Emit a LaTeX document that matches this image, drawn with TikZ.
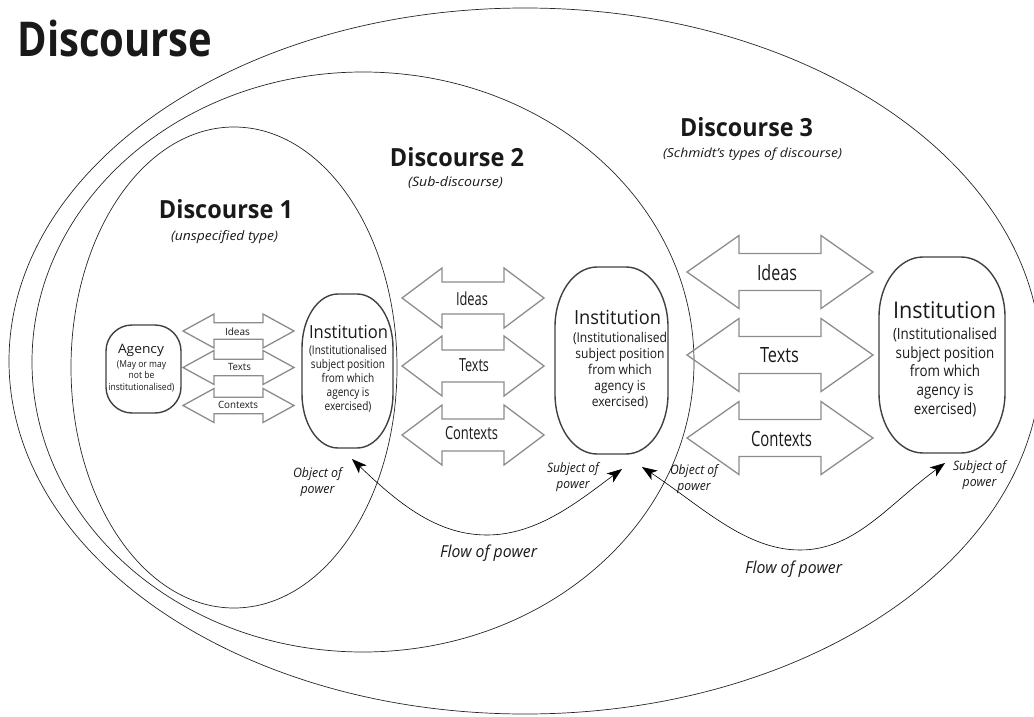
\documentclass[tikz,border=0pt]{standalone}
\usepackage{fontspec}
\setmainfont{Open Sans}
\usepackage{graphicx}
\usetikzlibrary{arrows.meta}

% set text to a given width, keeping its natural height
\newcommand{\fitw}[2]{\resizebox{#1}{\height}{#2}}
\newcommand{\setfs}[1]{\fontsize{#1}{#1}\selectfont}
\newcommand{\linesof}[1]{\begin{tabular}{@{}c@{}}#1\end{tabular}}

% two-headed block arrow: cx, cy, half length, head length, head half-height, shaft half-height
\newcommand{\twoway}[6]{%
  \draw[twoarrow] (#1-#3,#2) -- ++(#4,-#5) -- ++(0,#5-#6) -- (#1+#3-#4,#2-#6)
    -- ++(0,#6-#5) -- (#1+#3,#2) -- ++(-#4,#5) -- ++(0,#6-#5)
    -- (#1-#3+#4,#2+#6) -- ++(0,#5-#6) -- cycle;
}

% box with elliptical corners: name, cx, cy, half width, half height, corner rx, corner ry
\newcommand{\instbox}[7]{%
  \node[inner sep=0pt, minimum width={2*#4pt}, minimum height={2*#5pt}] (#1) at (#2,#3) {};
  \pgfmathsetmacro\bxl{#2-#4}\pgfmathsetmacro\bxr{#2+#4}%
  \pgfmathsetmacro\byt{#3-#5}\pgfmathsetmacro\byb{#3+#5}%
  \pgfmathsetmacro\bkx{0.5523*#6}\pgfmathsetmacro\bky{0.5523*#7}%
  \draw[box] (\bxl+#6,\byt) -- (\bxr-#6,\byt)
    .. controls (\bxr-#6+\bkx,\byt) and (\bxr,\byt+#7-\bky) .. (\bxr,\byt+#7)
    -- (\bxr,\byb-#7)
    .. controls (\bxr,\byb-#7+\bky) and (\bxr-#6+\bkx,\byb) .. (\bxr-#6,\byb)
    -- (\bxl+#6,\byb)
    .. controls (\bxl+#6-\bkx,\byb) and (\bxl,\byb-#7+\bky) .. (\bxl,\byb-#7)
    -- (\bxl,\byt+#7)
    .. controls (\bxl,\byt+#7-\bky) and (\bxl+#6-\bkx,\byt) .. (\bxl+#6,\byt) -- cycle;
}

\begin{document}
\begin{tikzpicture}[x=1pt,y=-1pt,
  region/.style={draw=black!85, line width=0.7pt},
  box/.style={draw=black!75, line width=1.4pt},
  twoarrow/.style={draw=black!45, line width=1.3pt, line join=miter},
  flow/.style={draw=black, line width=0.6pt,
    {Stealth[length=15pt,width=11pt,inset=4pt]}-{Stealth[length=15pt,width=11pt,inset=4pt]}},
  txt/.style={inner sep=0pt, text=black!90},
]
\useasboundingbox (0,0) rectangle (1034,717);

% nested discourses
\draw[region] (525,361) ellipse [x radius=516pt, y radius=353pt];
\draw[region] (363,362) ellipse [x radius=331pt, y radius=290pt];
\draw[region] (234,367.5) ellipse [x radius=163pt, y radius=240.5pt];

% titles
\node[txt, font=\bfseries\setfs{48}] (title) at (115,39) {\fitw{195pt}{Discourse}};
\node[txt, font=\bfseries\setfs{25}] (d1) at (226,209.5) {\fitw{134pt}{Discourse 1}};
\node[txt, font=\itshape\setfs{13}] (d1s) at (224.5,237) {\fitw{107pt}{(unspecified type)}};
\node[txt, font=\bfseries\setfs{25}] (d2) at (457,157) {\fitw{134pt}{Discourse 2}};
\node[txt, font=\itshape\setfs{13}] (d2s) at (455.5,183) {\fitw{95pt}{(Sub-discourse)}};
\node[txt, font=\bfseries\setfs{25}] (d3) at (746.5,127.5) {\fitw{133pt}{Discourse 3}};
\node[txt, font=\itshape\setfs{12.5}] (d3s) at (752.5,154) {\fitw{179pt}{(Schmidt's types of discourse)}};

% exchange arrows, discourse 1
\twoway{238.5}{331}{55.5}{31}{17}{8.3}
\twoway{238.5}{367.5}{55.5}{31}{17}{8.3}
\twoway{238.5}{405.5}{55.5}{31}{17}{8.3}
\node[txt, font=\setfs{10}] (ideasA) at (237.5,331.5) {\fitw{25pt}{Ideas}};
\node[txt, font=\setfs{10}] (textsA) at (239.5,367) {\fitw{23pt}{Texts}};
\node[txt, font=\setfs{10}] (contextsA) at (238,405) {\fitw{40pt}{Contexts}};

% exchange arrows, discourse 2
\twoway{473}{298}{71}{40}{30}{16}
\twoway{473}{366}{71}{40}{30}{16}
\twoway{473}{435}{71}{40}{30}{16}
\node[txt, font=\setfs{18}] (ideasB) at (472,299) {\fitw{32pt}{Ideas}};
\node[txt, font=\setfs{18}] (textsB) at (474,365) {\fitw{30pt}{Texts}};
\node[txt, font=\setfs{18}] (contextsB) at (471.5,433) {\fitw{53pt}{Contexts}};

% exchange arrows, discourse 3
\twoway{780}{272}{93}{52}{36.5}{18.5}
\twoway{780}{355}{93}{52}{36.5}{18.5}
\twoway{780}{438}{93}{52}{36.5}{18.5}
\node[txt, font=\setfs{21}] (ideasC) at (777,273) {\fitw{40pt}{Ideas}};
\node[txt, font=\setfs{21}] (textsC) at (779.5,355) {\fitw{39pt}{Texts}};
\node[txt, font=\setfs{21}] (contextsC) at (781.5,439) {\fitw{61pt}{Contexts}};

% agency
\instbox{agency}{143.5}{369}{37.5}{44}{26}{26}
\node[txt, font=\setfs{13}] (agencyt) at (141,350.5) {\fitw{46pt}{Agency}};
\node[txt] (agencys) at (141.5,376.5) {\fitw{66pt}{\fontsize{9.5}{11.5}\selectfont
  \linesof{(May or may\\not be\\institutionalised)}}};

% institutions
\instbox{inst1}{347.5}{371}{45.5}{77}{36}{54}
\node[txt, font=\setfs{18}] (inst1t) at (348.5,332) {\fitw{79pt}{Institution}};
\node[txt] (inst1s) at (348,379.5) {\fitw{78pt}{\fontsize{12}{14}\selectfont
  \linesof{(Institutionalised\\subject position\\from which\\agency is\\exercised)}}};

\instbox{inst2}{611.5}{360.5}{56.5}{93.5}{42}{60}
\node[txt, font=\setfs{19.5}] (inst2t) at (617.5,317) {\fitw{87pt}{Institution}};
\node[txt] (inst2s) at (620,371) {\fitw{94pt}{\fontsize{13.5}{16}\selectfont
  \linesof{(Institutionalised\\subject position\\from which\\agency is\\exercised)}}};

\instbox{inst3}{942}{355}{63}{98}{44}{60}
\node[txt, font=\setfs{23}] (inst3t) at (944.5,310) {\fitw{103pt}{Institution}};
\node[txt] (inst3s) at (945,373) {\fitw{104pt}{\fontsize{15.5}{18.75}\selectfont
  \linesof{(Institutionalised\\subject position\\from which\\agency is\\exercised)}}};

% power labels
\node[txt] (obj1l) at (317.5,482) {\fitw{49pt}{\itshape\fontsize{13}{16}\selectfont\linesof{Object of\\power}}};
\node[txt] (subj2l) at (573,477) {\fitw{52pt}{\itshape\fontsize{13}{16}\selectfont\linesof{Subject of\\power}}};
\node[txt] (obj3l) at (694,479) {\fitw{48pt}{\itshape\fontsize{13}{16}\selectfont\linesof{Object of\\power}}};
\node[txt] (subj4l) at (979.5,475) {\fitw{53pt}{\itshape\fontsize{13}{16}\selectfont\linesof{Subject of\\power}}};

% flow of power
\coordinate (obj1) at (352,459);
\coordinate (low1) at (487,535);
\coordinate (subj2) at (622,469);
\coordinate (obj3) at (642,467);
\coordinate (low2) at (800,550);
\coordinate (subj4) at (945,463);
\draw[flow] (obj1) .. controls (400,505) and (438,535) .. (low1)
  .. controls (538,535) and (580,500) .. (subj2);
\draw[flow] (obj3) .. controls (700,505) and (745,550) .. (low2)
  .. controls (855,550) and (888,505) .. (subj4);
\node[txt, font=\itshape\setfs{16.5}] (flowA) at (488.5,553) {\fitw{97pt}{Flow of power}};
\node[txt, font=\itshape\setfs{16.5}] (flowB) at (793.5,569) {\fitw{97pt}{Flow of power}};
\end{tikzpicture}
\end{document}
